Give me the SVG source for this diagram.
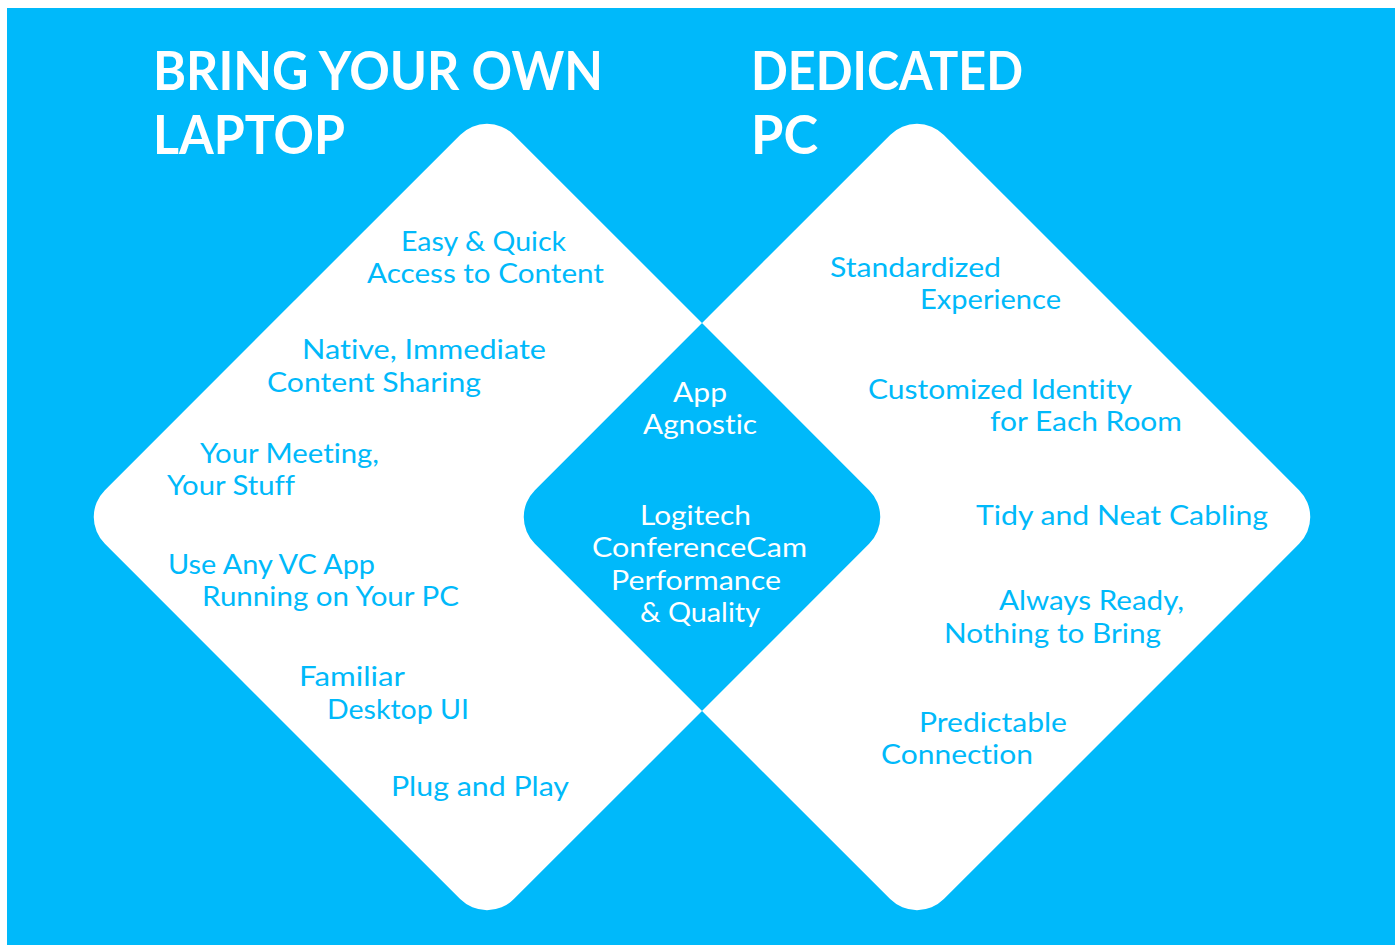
<svg xmlns="http://www.w3.org/2000/svg" width="1400" height="945" viewBox="0 0 1400 945">
<style>
.bg{fill:#00B9FA}
.dia{fill:#FFFFFF}
text{font-variant-ligatures:none;font-feature-settings:"liga" 0,"clig" 0}
.title{font-family:"Lato","Liberation Sans",sans-serif;font-weight:700;font-size:54px;fill:#FFFFFF}
.t{font-family:"Lato","Liberation Sans",sans-serif;font-weight:400;font-size:27px;fill:#00B9FA}
.w{font-family:"Lato","Liberation Sans",sans-serif;font-weight:400;font-size:27px;fill:#FFFFFF}
</style>
<defs>
<rect id="sq" x="-289.2" y="-289.2" width="578.4" height="578.4" rx="38" ry="38"/>
<clipPath id="clipL"><use href="#sq" transform="translate(487,517) rotate(45)"/></clipPath>
</defs>
<rect class="bg" x="7" y="8" width="1388" height="937"/>
<g id="title-left">
<text class="title" x="153" y="90" textLength="450" lengthAdjust="spacingAndGlyphs">BRING YOUR OWN</text>
<text class="title" x="153" y="154" textLength="192" lengthAdjust="spacingAndGlyphs">LAPTOP</text>
</g>
<g id="title-right">
<text class="title" x="751" y="90" textLength="272" lengthAdjust="spacingAndGlyphs">DEDICATED</text>
<text class="title" x="751" y="154" textLength="67" lengthAdjust="spacingAndGlyphs">PC</text>
</g>
<g id="diamond-left">
<use href="#sq" class="dia" transform="translate(487,517) rotate(45)"/>
</g>
<g id="diamond-right">
<use href="#sq" class="dia" transform="translate(917,517) rotate(45)"/>
</g>
<g id="overlap" clip-path="url(#clipL)">
<use href="#sq" class="bg" transform="translate(917,517) rotate(45)"/>
</g>
<g id="left-items">
<text class="t" x="401" y="251" textLength="165" lengthAdjust="spacingAndGlyphs">Easy &amp; Quick</text>
<text class="t" x="367" y="283" textLength="237" lengthAdjust="spacingAndGlyphs">Access to Content</text>
<text class="t" x="302" y="359" textLength="244" lengthAdjust="spacingAndGlyphs">Native, Immediate</text>
<text class="t" x="267" y="392" textLength="214" lengthAdjust="spacingAndGlyphs">Content Sharing</text>
<text class="t" x="200" y="463" textLength="179" lengthAdjust="spacingAndGlyphs">Your Meeting,</text>
<text class="t" x="167" y="495" textLength="128" lengthAdjust="spacingAndGlyphs">Your Stuff</text>
<text class="t" x="168" y="574" textLength="207" lengthAdjust="spacingAndGlyphs">Use Any VC App</text>
<text class="t" x="202" y="606" textLength="257" lengthAdjust="spacingAndGlyphs">Running on Your PC</text>
<text class="t" x="299" y="686" textLength="106" lengthAdjust="spacingAndGlyphs">Familiar</text>
<text class="t" x="327" y="719" textLength="142" lengthAdjust="spacingAndGlyphs">Desktop UI</text>
<text class="t" x="391" y="796" textLength="178" lengthAdjust="spacingAndGlyphs">Plug and Play</text>
</g>
<g id="center-items">
<text class="w" x="673" y="402" textLength="54" lengthAdjust="spacingAndGlyphs">App</text>
<text class="w" x="643" y="434" textLength="114" lengthAdjust="spacingAndGlyphs">Agnostic</text>
<text class="w" x="640" y="525" textLength="111" lengthAdjust="spacingAndGlyphs">Logitech</text>
<text class="w" x="592" y="557" textLength="215" lengthAdjust="spacingAndGlyphs">ConferenceCam</text>
<text class="w" x="611" y="590" textLength="170" lengthAdjust="spacingAndGlyphs">Performance</text>
<text class="w" x="640" y="622" textLength="120" lengthAdjust="spacingAndGlyphs">&amp; Quality</text>
</g>
<g id="right-items">
<text class="t" x="830" y="277" textLength="171" lengthAdjust="spacingAndGlyphs">Standardized</text>
<text class="t" x="920" y="309" textLength="141" lengthAdjust="spacingAndGlyphs">Experience</text>
<text class="t" x="868" y="399" textLength="264" lengthAdjust="spacingAndGlyphs">Customized Identity</text>
<text class="t" x="990" y="431" textLength="192" lengthAdjust="spacingAndGlyphs">for Each Room</text>
<text class="t" x="976" y="525" textLength="292" lengthAdjust="spacingAndGlyphs">Tidy and Neat Cabling</text>
<text class="t" x="999" y="610" textLength="185" lengthAdjust="spacingAndGlyphs">Always Ready,</text>
<text class="t" x="944" y="643" textLength="217" lengthAdjust="spacingAndGlyphs">Nothing to Bring</text>
<text class="t" x="919" y="732" textLength="148" lengthAdjust="spacingAndGlyphs">Predictable</text>
<text class="t" x="881" y="764" textLength="152" lengthAdjust="spacingAndGlyphs">Connection</text>
</g>
</svg>
